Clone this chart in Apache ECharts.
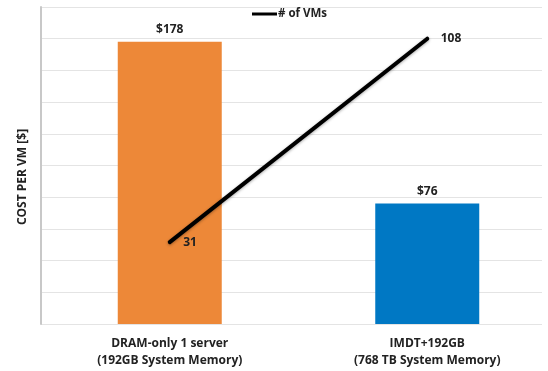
<!DOCTYPE html>
<html>
<head>
<meta charset="utf-8">
<script src="https://cdn.jsdelivr.net/npm/echarts@6/dist/echarts.min.js"></script>
<style>html,body{margin:0;padding:0;background:#fff}#c{width:548px;height:371px}</style>
</head>
<body>
<div id="c"></div>
<script>
var categories = ['DRAM-only 1 server\n(192GB System Memory)', 'IMDT+192GB\n(768 TB System Memory)'];
var costPerVM = [178, 76];
var barColors = ['#ED8838', '#0078C4'];
var vmCounts = [31, 108];
var lineName = '# of VMs';
var yTitle = 'COST PER VM [$]';

var FONT = 'Open Sans';
var chart = echarts.init(document.getElementById('c'), null, {renderer: 'canvas'});
chart.setOption({
  animation: false,
  backgroundColor: '#fff',
  textStyle: {fontFamily: FONT},
  legend: {
    data: [{name: lineName, icon: 'rect'}],
    left: 247, top: 3,
    itemWidth: 25, itemHeight: 3,
    itemStyle: {color: '#000'},
    textStyle: {fontFamily: FONT, fontWeight: 'bold', fontSize: 11.5, color: '#222', padding: [0, 0, 0, -4]}
  },
  grid: [
    {left: 41, top: 7, width: 515, height: 317, outerBoundsMode: 'none', containLabel: false},
    {left: 41, top: 7, right: 6, height: 317, outerBoundsMode: 'none', containLabel: false}
  ],
  xAxis: [
    {
      type: 'category', gridIndex: 0, data: categories,
      axisLine: {show: false}, axisTick: {show: false}, splitLine: {show: false},
      axisLabel: {margin: 11, fontFamily: FONT, fontWeight: 'bold', fontSize: 12, color: '#222', lineHeight: 17}
    },
    {type: 'category', gridIndex: 1, data: ['a'], show: false}
  ],
  yAxis: [
    {type: 'value', gridIndex: 0, min: 0, max: 200, interval: 20, show: false},
    {type: 'value', gridIndex: 0, min: 0, max: 120, interval: 20, show: false},
    {
      type: 'value', gridIndex: 1, min: 0, max: 200, interval: 20,
      axisLabel: {show: false}, axisTick: {show: false},
      axisLine: {show: true, lineStyle: {color: '#c8c8c8', width: 2}},
      splitLine: {show: true, lineStyle: {color: '#e4e4e4', width: 1}}
    }
  ],
  graphic: [{
    type: 'text', x: 23, y: 177, rotation: Math.PI / 2,
    style: {text: yTitle, fontFamily: FONT, fontWeight: 'bold', fontSize: 12, fill: '#222', align: 'center', verticalAlign: 'middle'}
  }],
  series: [
    {
      type: 'bar', name: 'Cost', xAxisIndex: 0, yAxisIndex: 0, barWidth: 104,
      data: costPerVM.map(function (v, i) { return {value: v, itemStyle: {color: barColors[i]}}; }),
      label: {show: true, position: 'top', distance: 6, formatter: function (p) { return '$' + p.value; },
        fontFamily: FONT, fontWeight: 'bold', fontSize: 12, color: '#222'}
    },
    {
      type: 'line', name: lineName, xAxisIndex: 0, yAxisIndex: 1, data: vmCounts,
      showSymbol: true, symbol: 'circle', symbolSize: 3,
      lineStyle: {color: '#000', width: 4, cap: 'round', shadowColor: 'rgba(0,0,0,0.35)', shadowBlur: 3, shadowOffsetY: 1},
      itemStyle: {color: '#000'},
      label: {show: true, position: 'right', distance: 12, fontFamily: FONT, fontWeight: 'bold', fontSize: 12, color: '#222'},
      z: 5
    }
  ]
});
</script>
</body>
</html>
